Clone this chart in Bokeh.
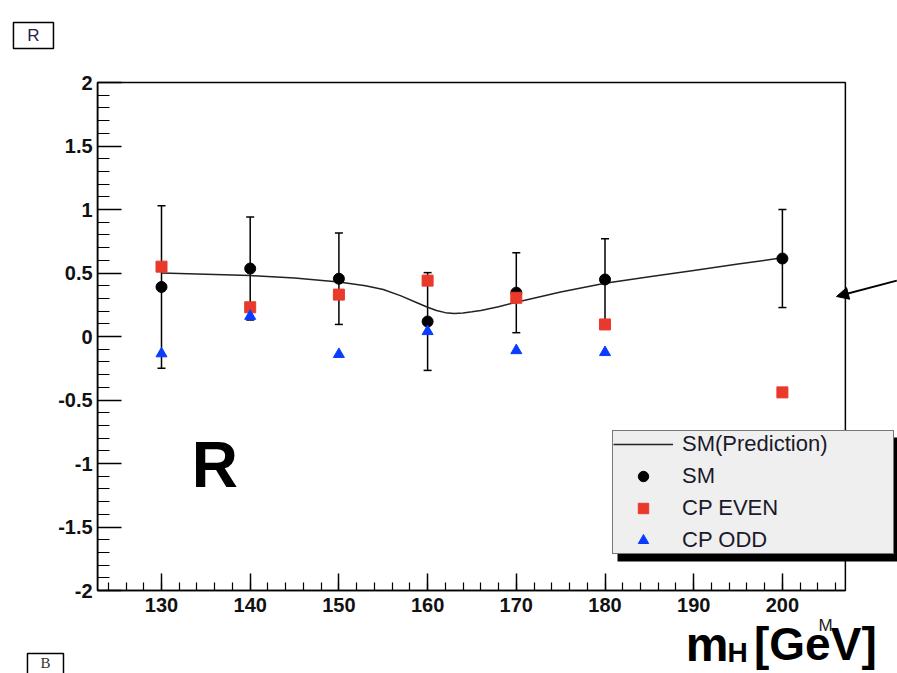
import numpy as np
from bokeh.plotting import figure
from bokeh.models import (ColumnDataSource, Range1d, FixedTicker, Whisker, TeeHead,
                          Legend, LegendItem, Label, BoxAnnotation, Arrow, NormalHead)
from bokeh.embed import file_html
from bokeh.resources import INLINE

# ---------------- data ----------------
sm_mass = [130, 140, 150, 160, 170, 180, 200]
sm_r = [0.39, 0.535, 0.455, 0.118, 0.345, 0.449, 0.614]
sm_err = [0.64, 0.405, 0.36, 0.385, 0.315, 0.32, 0.386]

even_mass = [130, 140, 150, 160, 170, 180, 200]
even_r = [0.55, 0.23, 0.33, 0.44, 0.305, 0.095, -0.44]

odd_mass = [130, 140, 150, 160, 170, 180]
odd_r = [-0.135, 0.16, -0.14, 0.04, -0.11, -0.125]

pred_mass = [130, 135, 140, 145, 150, 153, 155, 157, 159, 160, 161, 162, 163, 164, 165, 166, 168, 170, 175, 180, 185, 190, 195, 200]
pred_r = [0.50, 0.49, 0.48, 0.46, 0.43, 0.40, 0.37, 0.32, 0.26, 0.23, 0.205, 0.188, 0.182, 0.186, 0.195, 0.205, 0.235, 0.27, 0.35, 0.42, 0.47, 0.52, 0.57, 0.62]

x_ticks = [130, 140, 150, 160, 170, 180, 190, 200]
x_tick_labels = ["130", "140", "150", "160", "170", "180", "190", "200"]
y_ticks = [-2, -1.5, -1, -0.5, 0, 0.5, 1, 1.5, 2]
y_tick_labels = ["-2", "-1.5", "-1", "-0.5", "0", "0.5", "1", "1.5", "2"]

# axis (frame) extent of the ROOT pad
X_LO, X_HI = 122.8, 207.1
Y_LO, Y_HI = -2.0, 2.0

FONT = "Liberation Sans"

# figure frame spans the whole page so that the slide annotations are not clipped
p = figure(width=897, height=673, x_range=Range1d(111.849, 212.976), y_range=Range1d(-2.6535, 2.6457),
           output_backend="svg", toolbar_location=None,
           min_border_left=0, min_border_right=0, min_border_top=0, min_border_bottom=0)
p.grid.visible = False
p.outline_line_color = None
p.background_fill_color = "white"
p.border_fill_color = "white"

# axes drawn at the pad frame edges
p.xaxis.fixed_location = Y_LO
p.xaxis.bounds = (X_LO, X_HI)
p.yaxis.fixed_location = X_LO
p.yaxis.bounds = (Y_LO, Y_HI)
p.xaxis.ticker = FixedTicker(ticks=x_ticks, minor_ticks=list(np.arange(124, 207, 2)))
p.xaxis.major_label_overrides = {t: l for t, l in zip(x_ticks, x_tick_labels)}
p.yaxis.ticker = FixedTicker(ticks=y_ticks, minor_ticks=list(np.round(np.arange(-2, 2.01, 0.1), 2)))
p.yaxis.major_label_overrides = {t: l for t, l in zip(y_ticks, y_tick_labels)}
for ax in (p.xaxis, p.yaxis):
    ax.axis_line_color = "black"
    ax.axis_line_width = 1.5
    ax.major_tick_line_color = "black"
    ax.minor_tick_line_color = "black"
    ax.major_tick_line_width = 1.5
    ax.minor_tick_line_width = 1.2
    ax.major_tick_out = 0
    ax.minor_tick_out = 0
    ax.major_label_text_font = FONT
    ax.major_label_text_font_style = "bold"
    ax.major_label_text_font_size = "20px"
    ax.major_label_text_color = "#111111"
p.xaxis.major_tick_in = 17
p.xaxis.minor_tick_in = 8
p.xaxis.major_label_standoff = 7
p.yaxis.major_tick_in = 24
p.yaxis.minor_tick_in = 12
p.yaxis.major_label_standoff = 5

# pad frame
p.add_layout(BoxAnnotation(left=X_LO, right=X_HI, top=Y_HI, bottom=Y_LO,
                           fill_alpha=0, line_color="black", line_alpha=1, line_width=1.5,
                           level="underlay"))

# prediction curve
line_r = p.line(pred_mass, pred_r, line_color="#222222", line_width=1.5)

# error bars
src = ColumnDataSource(dict(x=sm_mass,
                            upper=[v + e for v, e in zip(sm_r, sm_err)],
                            lower=[v - e for v, e in zip(sm_r, sm_err)]))
wh = Whisker(base="x", upper="upper", lower="lower", source=src,
             line_color="black", line_width=1.5,
             upper_head=TeeHead(size=8, line_width=1.5, line_color="black"),
             lower_head=TeeHead(size=8, line_width=1.5, line_color="black"))
p.add_layout(wh)

sm_rend = p.scatter(sm_mass, sm_r, marker="circle", size=11, fill_color="black", line_color="black")
even_rend = p.scatter(even_mass, even_r, marker="square", size=11, fill_color="#e8392b", line_color="#e8392b")
odd_rend = p.scatter(odd_mass, odd_r, marker="triangle", size=11, fill_color="#0a3cff", line_color="#0a3cff")

# legend shadow
p.add_layout(BoxAnnotation(left=181.41, right=212.97, top=-0.795, bottom=-1.772,
                           fill_color="black", fill_alpha=1, line_color=None))

legend = Legend(items=[LegendItem(label="SM(Prediction)", renderers=[line_r]),
                       LegendItem(label="SM", renderers=[sm_rend]),
                       LegendItem(label="CP EVEN", renderers=[even_rend]),
                       LegendItem(label="CP ODD", renderers=[odd_rend])],
                location=(612, 119), margin=0, padding=0, spacing=6,
                label_height=26, glyph_height=26, glyph_width=60, label_standoff=9, label_width=211,
                label_text_font=FONT, label_text_font_size="22px", label_text_color="#1a1a2a",
                border_line_color="black", border_line_width=1.5,
                background_fill_color="#efefef", background_fill_alpha=1)
p.add_layout(legend)

# arrow
p.add_layout(Arrow(end=NormalHead(size=12, fill_color="black", line_color="black"),
                   x_start=212.9, y_start=0.44, x_end=206.1, y_end=0.315,
                   line_color="black", line_width=2))

# big R
p.add_layout(Label(x=133.4, y=-1.0157, text="R", text_font=FONT, text_font_style="bold",
                   text_font_size="64px", text_color="black", text_baseline="alphabetic"))

# top-left R box
p.add_layout(BoxAnnotation(left=113.31, right=117.82, top=2.472, bottom=2.268,
                           fill_color="white", fill_alpha=1, line_color="black", line_alpha=1,
                           line_width=1.5))
p.add_layout(Label(x=115.57, y=2.37, text="R", text_font=FONT, text_font_size="17px",
                   text_color="#222244", text_align="center", text_baseline="middle"))

# bottom-left B box (next pad)
p.add_layout(BoxAnnotation(left=114.89, right=118.95, top=-2.496, bottom=-2.75,
                           fill_color="white", fill_alpha=1, line_color="black", line_alpha=1,
                           line_width=1.5))
p.add_layout(Label(x=116.92, y=-2.571, text="B", text_font="Liberation Serif", text_font_size="15px",
                   text_color="#333333", text_align="center", text_baseline="alphabetic"))

# axis title remnant
p.add_layout(Label(x=204.07, y=-2.276, text="M", text_font=FONT, text_font_size="17px",
                   text_color="#222222", text_baseline="alphabetic"))

# big mH[GeV]
p.add_layout(Label(x=189.1, y=-2.425, text="m", text_font=FONT, text_font_style="bold",
                   text_font_size="48px", text_color="black", text_baseline="alphabetic"))
p.add_layout(Label(x=193.8, y=-2.488, text="H", text_font=FONT, text_font_style="bold",
                   text_font_size="28px", text_color="black", text_baseline="alphabetic"))
p.add_layout(Label(x=196.8, y=-2.425, text="[GeV]", text_font=FONT, text_font_style="bold",
                   text_font_size="46px", text_color="black", text_baseline="alphabetic"))

open("out.html", "w").write(file_html(p, INLINE))
